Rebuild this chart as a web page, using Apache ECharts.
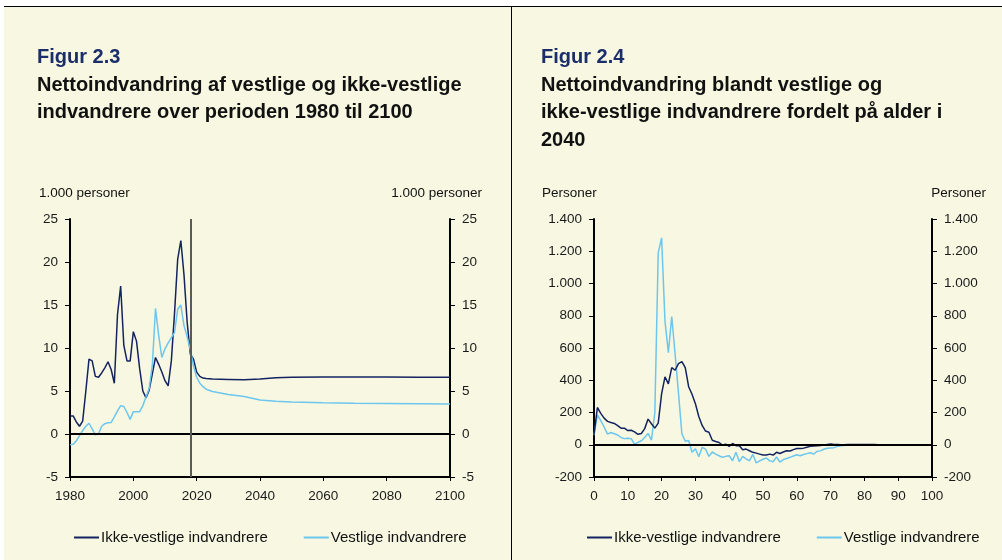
<!DOCTYPE html>
<html>
<head>
<meta charset="utf-8">
<script src="https://cdn.jsdelivr.net/npm/echarts@6/dist/echarts.min.js"></script>
<style>
html, body { margin: 0; padding: 0; background: #fff; }
#chart { width: 1002px; height: 560px; }
</style>
</head>
<body>
<div id="chart"></div>
<script>
// Figur 2.3 - 1.000 personer per aar
const years = [
    1980, 1981, 1982, 1983, 1984, 1985, 1986, 1987, 1988, 1989,
    1990, 1991, 1992, 1993, 1994, 1995, 1996, 1997, 1998, 1999,
    2000, 2001, 2002, 2003, 2004, 2005, 2006, 2007, 2008, 2009,
    2010, 2011, 2012, 2013, 2014, 2015, 2016, 2017, 2018, 2019,
    2020, 2021, 2022, 2023, 2025, 2030, 2035, 2040, 2045, 2050,
    2060, 2070, 2080, 2090, 2100
];
const ikkeVestligeAar = [
    2.1, 2.1, 1.4, 0.9, 1.5, 5.0, 8.7, 8.5, 6.7, 6.6,
    7.1, 7.7, 8.4, 7.5, 5.9, 13.9, 17.2, 10.3, 8.5, 8.5,
    11.9, 10.8, 7.6, 5.0, 4.2, 5.1, 7.0, 8.9, 8.1, 7.2,
    6.2, 5.6, 8.5, 14.0, 20.3, 22.5, 18.5, 13.0, 9.3, 8.7,
    7.2, 6.7, 6.5, 6.45, 6.4, 6.35, 6.3, 6.4, 6.55, 6.6,
    6.62, 6.62, 6.62, 6.6, 6.6
];
const vestligeAar = [
    -1.25, -1.2, -0.8, -0.2, 0.4, 0.9, 1.25, 0.6, -0.1, 0.0,
    0.9, 1.2, 1.3, 1.35, 2.0, 2.7, 3.3, 3.2, 2.5, 1.7,
    2.6, 2.6, 2.6, 3.3, 4.3, 5.3, 8.0, 14.6, 11.5, 8.9,
    9.9, 10.6, 11.2, 11.8, 14.5, 15.0, 12.6, 11.3, 9.8, 7.9,
    6.6, 5.9, 5.5, 5.2, 4.95, 4.6, 4.35, 3.95, 3.8, 3.72,
    3.62, 3.58, 3.55, 3.52, 3.5
];
const prognoseStart = 2018;

// Figur 2.4 - personer fordelt paa alder i 2040
const ages = [];
for (let a = 0; a <= 100; a++) ages.push(a);
const ikkeVestligeAlder = [
    62, 231, 195, 165, 145, 138, 132, 118, 103, 103,
    88, 90, 80, 65, 70, 100, 159, 130, 103, 134,
    315, 421, 378, 478, 462, 503, 516, 478, 360, 313,
    255, 175, 120, 85, 78, 28, 20, 14, -2, 4,
    -10, 8, -6, -6, -31, -27, -37, -47, -52, -58,
    -64, -64, -58, -64, -47, -54, -45, -37, -39, -30,
    -23, -23, -21, -15, -10, -8, -6, -4, -2, 2,
    4, 2, 1, 0, 0, 1, 1, 2, 2, 2,
    1, 1, 1, 1, 0, 0, 0, 0, 0, 0,
    0, 0, 0, 0, 0, 0, 0, 0, 0, 0,
    0
];
const vestligeAlder = [
    60, 186, 150, 110, 66, 76, 68, 60, 45, 38,
    41, 38, 4, 15, 25, 45, 70, 29, 200, 1190,
    1283, 767, 571, 795, 561, 320, 68, 22, 27, -47,
    -25, -74, -16, -27, -72, -45, -58, -68, -78, -72,
    -68, -99, -47, -105, -72, -88, -99, -60, -113, -100,
    -90, -82, -100, -105, -76, -108, -92, -85, -78, -70,
    -62, -68, -60, -55, -50, -58, -40, -38, -28, -22,
    -20, -18, -10, -6, -4, -2, 0, 0, 0, 0,
    0, 0, 0, 0, 0, 0, 0, 0, 0, 0,
    0, 0, 0, 0, 0, 0, 0, 0, 0, 0,
    0
];

const NAVY = '#13235f';
const SKY = '#6cc6ee';
const FONT = '"Liberation Sans", Arial, sans-serif';
const names = ['Ikke-vestlige indvandrere', 'Vestlige indvandrere'];

const pairs = (xs, ys) => xs.map((x, i) => [x, ys[i]]);
const dotted = v => String(v).replace(/\B(?=(\d{3})+(?!\d))/g, '.');
const plain = v => String(v);

function yAx(gridIndex, pos, min, max, interval, fmt) {
    return {
        type: 'value', gridIndex, position: pos, min, max, interval,
        axisLine: {show: true, lineStyle: {color: '#000', width: 2}},
        axisTick: {show: true, length: 5, lineStyle: {color: '#000', width: 1}},
        axisLabel: {margin: 12, color: '#1a1a1a', fontFamily: FONT, fontSize: 13.5, formatter: fmt},
        splitLine: {show: false},
    };
}
function xAx(gridIndex, min, max, interval) {
    return {
        type: 'value', gridIndex, min, max, interval,
        axisLine: {show: true, onZero: false, lineStyle: {color: '#000', width: 2}},
        axisTick: {show: true, length: 4, lineStyle: {color: '#000', width: 1}},
        axisLabel: {margin: 12, color: '#1a1a1a', fontFamily: FONT, fontSize: 13.5, formatter: plain},
        splitLine: {show: false},
    };
}
const zeroLine = {
    silent: true, symbol: 'none', animation: false,
    label: {show: false},
    lineStyle: {color: '#000', width: 2, type: 'solid'},
    data: [{yAxis: 0}],
};
function txt(x, y, text, opts) {
    return {
        type: 'text', x, y, silent: true,
        style: Object.assign({
            text, fill: '#111', font: '13.5px ' + FONT,
            textVerticalAlign: 'middle', textAlign: 'left',
        }, opts || {}),
    };
}
const TITLE = 'bold 20px ' + FONT;
const legendText = {fontFamily: FONT, fontSize: 15, color: '#111', padding: [0, 0, 0, -3]};

option = {
    animation: false,
    grid: [
        {left: 70, top: 219, width: 380, height: 258},
        {left: 594, top: 219, width: 338, height: 258},
    ],
    xAxis: [xAx(0, 1980, 2100, 20), xAx(1, 0, 100, 10)],
    yAxis: [
        yAx(0, 'left', -5, 25, 5, plain),
        yAx(0, 'right', -5, 25, 5, plain),
        yAx(1, 'left', -200, 1400, 200, dotted),
        yAx(1, 'right', -200, 1400, 200, dotted),
    ],
    legend: [
        {data: names, left: 69, top: 525, itemWidth: 25, itemHeight: 2, itemGap: 36, icon: 'rect',
         textStyle: legendText},
        {data: names, left: 582, top: 525, itemWidth: 25, itemHeight: 2, itemGap: 36, icon: 'rect',
         textStyle: legendText},
    ],
    series: [
        {
            name: names[0], type: 'line', xAxisIndex: 0, yAxisIndex: 0,
            data: pairs(years, ikkeVestligeAar), symbol: 'none',
            lineStyle: {color: NAVY, width: 1.5}, itemStyle: {color: NAVY},
            markLine: zeroLine,
        },
        {
            name: names[1], type: 'line', xAxisIndex: 0, yAxisIndex: 0,
            data: pairs(years, vestligeAar), symbol: 'none',
            lineStyle: {color: SKY, width: 1.5}, itemStyle: {color: SKY},
            markLine: {
                silent: true, symbol: 'none', label: {show: false},
                lineStyle: {color: '#5a5a5a', width: 2, type: 'solid'},
                data: [{xAxis: prognoseStart}],
            },
        },
        {
            name: names[0], type: 'line', xAxisIndex: 1, yAxisIndex: 2,
            data: pairs(ages, ikkeVestligeAlder), symbol: 'none',
            lineStyle: {color: NAVY, width: 1.5}, itemStyle: {color: NAVY},
            markLine: zeroLine, z: 3,
        },
        {
            name: names[1], type: 'line', xAxisIndex: 1, yAxisIndex: 2,
            data: pairs(ages, vestligeAlder), symbol: 'none',
            lineStyle: {color: SKY, width: 1.5}, itemStyle: {color: SKY}, z: 2,
        },
    ],
    graphic: [
        {type: 'rect', z: -10, silent: true, shape: {x: 4, y: 7, width: 998, height: 553}, style: {fill: '#f8f8e2'}},
        {type: 'line', silent: true, shape: {x1: 4, y1: 6.5, x2: 1002, y2: 6.5}, style: {stroke: '#000', lineWidth: 1}},
        {type: 'line', silent: true, shape: {x1: 511.5, y1: 6, x2: 511.5, y2: 560}, style: {stroke: '#000', lineWidth: 1}},
        txt(37, 57, 'Figur 2.3', {font: TITLE, fill: '#1c2d6b'}),
        txt(37, 85.5, 'Nettoindvandring af vestlige og ikke-vestlige', {font: TITLE}),
        txt(37, 112.5, 'indvandrere over perioden 1980 til 2100', {font: TITLE}),
        txt(39, 193, '1.000 personer'),
        txt(482, 193, '1.000 personer', {textAlign: 'right'}),
        txt(541, 57, 'Figur 2.4', {font: TITLE, fill: '#1c2d6b'}),
        txt(541, 85.5, 'Nettoindvandring blandt vestlige og', {font: TITLE}),
        txt(541, 112.5, 'ikke-vestlige indvandrere fordelt på alder i', {font: TITLE}),
        txt(541, 140, '2040', {font: TITLE}),
        txt(542, 193, 'Personer'),
        txt(986, 193, 'Personer', {textAlign: 'right'}),
    ],
};

dom = document.getElementById('chart');
chart = echarts.init(dom);
chart.setOption(option);
</script>
</body>
</html>
